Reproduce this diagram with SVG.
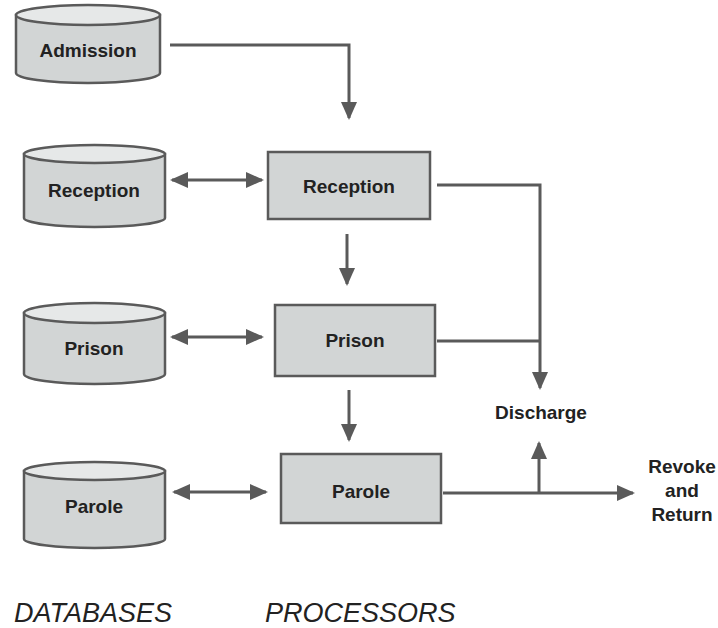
<svg xmlns="http://www.w3.org/2000/svg" width="718" height="628" viewBox="0 0 718 628">
<style>
.body{fill:#d2d5d5;stroke:#5a5a5a;stroke-width:2.5}
.top{fill:#e6e8e8;stroke:#5a5a5a;stroke-width:2.5}
.box{fill:#d2d5d5;stroke:#5a5a5a;stroke-width:2.5}
.lbl{font-family:"Liberation Sans",Arial,sans-serif;font-weight:bold;font-size:19px;fill:#222;text-anchor:middle}
.cap{font-family:"Liberation Sans",Arial,sans-serif;font-style:italic;font-size:27px;fill:#222}
.ln{fill:none;stroke:#5a5a5a;stroke-width:3}
</style>
<defs>
<marker id="ah" markerUnits="userSpaceOnUse" markerWidth="18" markerHeight="16" viewBox="0 0 18 16" refX="16" refY="8" orient="auto-start-reverse">
<path d="M0,0 L18,8 L0,16 Z" fill="#5a5a5a"/>
</marker>
</defs>
<rect width="718" height="628" fill="#fff"/>
<g id="db-admission">
<path class="body" d="M16,15 L16,73 A72,10 0 0 0 160,73 L160,15 Z"/>
<ellipse class="top" cx="88" cy="15" rx="72" ry="10"/>
<text class="lbl" x="88" y="57">Admission</text>
</g>
<g id="db-reception">
<path class="body" d="M24,154 L24,218 A70.5,9 0 0 0 165,218 L165,154 Z"/>
<ellipse class="top" cx="94.5" cy="154" rx="70.5" ry="9"/>
<text class="lbl" x="94" y="197">Reception</text>
</g>
<g id="db-prison">
<path class="body" d="M24,313 L24,374 A70.5,10 0 0 0 165,374 L165,313 Z"/>
<ellipse class="top" cx="94.5" cy="313" rx="70.5" ry="10"/>
<text class="lbl" x="94" y="355">Prison</text>
</g>
<g id="db-parole">
<path class="body" d="M24,471 L24,539 A70.5,9 0 0 0 165,539 L165,471 Z"/>
<ellipse class="top" cx="94.5" cy="471" rx="70.5" ry="9"/>
<text class="lbl" x="94" y="513">Parole</text>
</g>
<g id="proc-reception">
<rect class="box" x="268" y="152" width="162" height="67"/>
<text class="lbl" x="349" y="193">Reception</text>
</g>
<g id="proc-prison">
<rect class="box" x="275" y="305" width="160" height="71"/>
<text class="lbl" x="355" y="347">Prison</text>
</g>
<g id="proc-parole">
<rect class="box" x="281" y="454" width="160" height="69"/>
<text class="lbl" x="361" y="498">Parole</text>
</g>
<g id="discharge">
<text class="lbl" x="541" y="419">Discharge</text>
</g>
<g id="revoke">
<text class="lbl" x="682" y="473">Revoke</text>
<text class="lbl" x="682" y="497">and</text>
<text class="lbl" x="682" y="521">Return</text>
</g>
<g id="captions">
<text class="cap" x="14" y="622">DATABASES</text>
<text class="cap" x="265" y="622">PROCESSORS</text>
</g>
<g id="connectors">
<path class="ln" d="M170,45 L349,45 L349,118" marker-end="url(#ah)"/>
<path class="ln" d="M172,180 L262,180" marker-start="url(#ah)" marker-end="url(#ah)"/>
<path class="ln" d="M172,337 L262,337" marker-start="url(#ah)" marker-end="url(#ah)"/>
<path class="ln" d="M174,492 L266,492" marker-start="url(#ah)" marker-end="url(#ah)"/>
<path class="ln" d="M347,234 L347,284" marker-end="url(#ah)"/>
<path class="ln" d="M349,390 L349,440" marker-end="url(#ah)"/>
<path class="ln" d="M437,185 L540,185 L540,388" marker-end="url(#ah)"/>
<path class="ln" d="M437,341 L540,341"/>
<path class="ln" d="M539,493 L539,443" marker-end="url(#ah)"/>
<path class="ln" d="M443,493 L633,493" marker-end="url(#ah)"/>
</g>
</svg>
